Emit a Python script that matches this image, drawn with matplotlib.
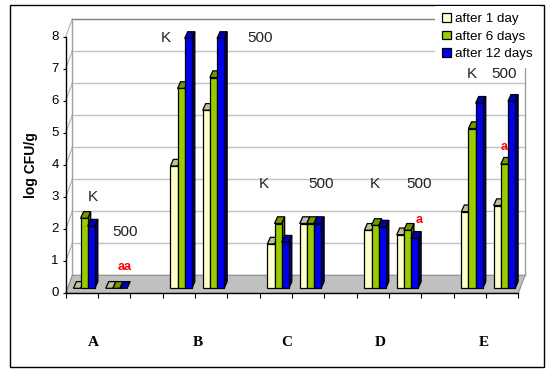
import matplotlib
matplotlib.use("Agg")
import matplotlib.pyplot as plt
from matplotlib.patches import Polygon, Rectangle, Patch

W, H = 553, 372

series_names = ["after 1 day", "after 6 days", "after 12 days"]
slots = [0, 1, 3, 4, 6, 7, 9, 10, 12, 13]
after_1_day = [0, 0, 3.81, 5.55, 1.38, 2.02, 1.81, 1.67, 2.39, 2.58]
after_6_days = [2.18, 0, 6.23, 6.57, 2.02, 2.02, 1.96, 1.81, 4.98, 3.87]
after_12_days = [1.94, 0, 7.79, 7.79, 1.44, 2.02, 1.91, 1.56, 5.77, 5.83]
categories = ["A", "B", "C", "D", "E"]
y_ticks = list(range(9))

front_colors = ["#FFFFCC", "#99CC00", "#0000F0"]
top_colors = ["#BFBF99", "#739900", "#0000B4"]
side_colors = ["#808066", "#4D6600", "#000078"]

plt.rcParams["font.family"] = ["Liberation Sans", "DejaVu Sans"]
fig = plt.figure(figsize=(W / 100, H / 100), dpi=100, facecolor="white")

L, R, T, B = 65.7, 518.3, 36.7, 293.3
ax = fig.add_axes([L / W, 1 - B / H, (R - L) / W, (B - T) / H])
ax.set_xlim(0, 14)
ax.set_ylim(0, 8)
ax.patch.set_visible(False)
sx = (R - L) / 14
sy = (B - T) / 8


def dx(p):
    return p / sx


def dy(p):
    return p / sy


def ftext(x, y, s, **kw):
    fig.text(x / W, 1 - y / H, s, ha="center", va="center", **kw)


# chart frame
fig.add_artist(Rectangle((9.5 / W, 1 - 367.3 / H), 534 / W, 362 / H, transform=fig.transFigure,
                         facecolor="white", edgecolor="black", linewidth=1.0, zorder=-5))

# walls and floor
wall_dx, wall_dy = dx(6.7), dy(18)
grid_kw = dict(clip_on=False, zorder=1)
for v in y_ticks:
    col = "#808080" if v == 8 else "#C0C0C0"
    ax.plot([wall_dx, 14 + wall_dx], [v + wall_dy] * 2, color=col, lw=1.0, **grid_kw)
    ax.plot([0, wall_dx], [v, v + wall_dy], color="#B0B0B0", lw=0.8, **grid_kw)
ax.plot([wall_dx, wall_dx], [wall_dy, 8 + wall_dy], color="#A0A0A0", lw=1.0, **grid_kw)
ax.plot([14 + wall_dx] * 2, [wall_dy, 8 + wall_dy], color="#A0A0A0", lw=1.0, **grid_kw)
ax.add_patch(Polygon([(0, 0), (wall_dx, wall_dy), (14 + wall_dx, wall_dy), (14, 0)],
                     facecolor="#C0C0C0", edgecolor="#909090", lw=0.8, clip_on=False, zorder=2))

# bars
margin, bar_w = dx(7.7), dx(7.15)
base = dy(5)
depth_x, depth_y = dx(3.0), dy(6.7)
edge = dict(edgecolor="black", linewidth=0.9, clip_on=False)
z = 3
for i, slot in enumerate(slots):
    for j, values in enumerate([after_1_day, after_6_days, after_12_days]):
        v = values[i]
        x0 = slot + margin + j * bar_w
        x1 = x0 + bar_w
        top = base + v
        if v > 0:
            ax.add_patch(Polygon([(x1, base), (x1 + depth_x, base + depth_y),
                                  (x1 + depth_x, top + depth_y), (x1, top)],
                                 facecolor=side_colors[j], zorder=z, **edge))
        ax.add_patch(Polygon([(x0, top), (x0 + depth_x, top + depth_y),
                              (x1 + depth_x, top + depth_y), (x1, top)],
                             facecolor=top_colors[j], zorder=z, **edge))
        if v > 0:
            ax.bar(x0, v, width=bar_w, bottom=base, align="edge",
                   color=front_colors[j], zorder=z + 0.5, **edge)
        z += 1

# axes
for s in ("top", "right"):
    ax.spines[s].set_visible(False)
for s in ("left", "bottom"):
    ax.spines[s].set_linewidth(1.0)
    ax.spines[s].set_zorder(100)
ax.set_yticks(y_ticks)
ax.set_xticks(range(15))
ax.set_xticklabels([])
ax.tick_params(axis="y", length=2.5, width=0.8, pad=2.5, labelsize=9.5)
for lab in ax.get_yticklabels():
    lab.set_verticalalignment("center")
ax.tick_params(axis="x", length=3.5, width=0.8)
ftext(31, 165, "log CFU/g", rotation=90, fontsize=10, fontweight="bold")

# category letters
for c, x in zip(categories, [93.3, 198, 286.7, 380.3, 484.3]):
    ftext(x, 342.7, c, fontsize=11, fontweight="bold", family="Liberation Serif", zorder=200)

# annotations
for s, x, y in [("K", 93, 197), ("500", 125, 232), ("K", 166, 38), ("500", 260, 38),
                ("K", 264, 184), ("500", 321.3, 184), ("K", 374.7, 184), ("500", 419.3, 184),
                ("K", 472.3, 74), ("500", 504, 74)]:
    ftext(x, y, s, fontsize=11, color="#222222", zorder=200)
for s, x, y in [("aa", 124.7, 267), ("a", 419.3, 220), ("a", 504, 146.7)]:
    ftext(x, y, s, fontsize=9, color="#FF0000", fontweight="bold", zorder=200)

# legend
handles = [Patch(facecolor=c, edgecolor="black", linewidth=0.9) for c in front_colors]
leg = fig.legend(handles, series_names, loc="upper left",
                 bbox_to_anchor=(435 / W, 1 - 5.5 / H), bbox_transform=fig.transFigure,
                 fontsize=9.6, frameon=True, facecolor="white", edgecolor="none", framealpha=1,
                 fancybox=False, handlelength=0.65, handleheight=0.65, handletextpad=0.3,
                 labelspacing=0.42, borderpad=0.55, borderaxespad=0)
leg.set_zorder(50)

fig.savefig("out.png", dpi=100, facecolor="white")
